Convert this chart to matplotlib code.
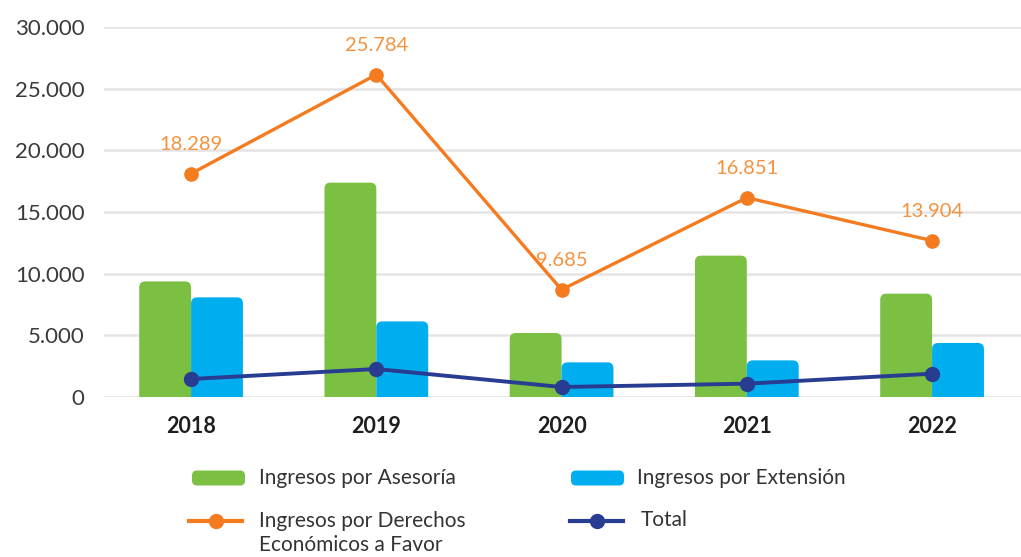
import matplotlib
matplotlib.use("Agg")
import matplotlib.pyplot as plt
from matplotlib.patches import FancyBboxPatch
from matplotlib.lines import Line2D
from matplotlib.ticker import FuncFormatter
import numpy as np

# ---- data ----
years = ["2018", "2019", "2020", "2021", "2022"]
asesoria = [9370, 17380, 5190, 11460, 8380]
extension = [8080, 6130, 2810, 2970, 4380]
derechos = [18110, 26140, 8700, 16160, 12680]
derechos_labels = ["18.289", "25.784", "9.685", "16.851", "13.904"]
total = [1460, 2270, 810, 1080, 1890]
yticks = [0, 5000, 10000, 15000, 20000, 25000, 30000]

legend_labels = ["Ingresos por Asesoría", "Ingresos por Extensión",
                 "Ingresos por Derechos", "Económicos a Favor", "Total"]

GREEN = "#7BC043"
BLUE = "#00AEEF"
ORANGE = "#F47B20"
ORANGE_TXT = "#F5923E"
NAVY = "#283C92"
GRID = "#E4E4E4"
TICK = "#3A3A3A"

plt.rcParams['font.family'] = ['Lato', 'DejaVu Sans']

W, H = 1021, 557
fig = plt.figure(figsize=(W / 100, H / 100), dpi=100)
ax = fig.add_axes([104 / W, 1 - 397 / H, (W - 104) / W, 370 / H])

x = np.arange(len(years))
bw = 0.28
ax.set_xlim(-0.47, 4.48)
ax.set_ylim(0, 30000)

# aspect for rounded bars (data y per data x in screen)
xu_per_px = (4.48 + 0.47) / (W - 104)
yu_per_px = 30000 / 370
aspect = yu_per_px / xu_per_px
r = 6 * xu_per_px

def rounded_bars(xpos, vals, color):
    bars = ax.bar(xpos, vals, width=bw, color=color, zorder=2)
    for b in bars:
        b.set_visible(False)
        bx, by = b.get_x(), b.get_y()
        bwid, bh = b.get_width(), b.get_height()
        ext = r * aspect
        p = FancyBboxPatch((bx, by - ext), bwid, bh + ext,
                           boxstyle=f"round,pad=0,rounding_size={r}",
                           mutation_aspect=aspect, facecolor=color,
                           edgecolor="none", zorder=2, clip_on=True)
        ax.add_patch(p)
    return bars

rounded_bars(x - bw / 2, asesoria, GREEN)
rounded_bars(x + bw / 2, extension, BLUE)

ax.plot(x, derechos, color=ORANGE, lw=2.4, marker="o", ms=9.5, zorder=4,
        clip_on=False)
ax.plot(x, total, color=NAVY, lw=2.8, marker="o", ms=10, zorder=4,
        clip_on=False)

for xi, yi, lab in zip(x, derechos, derechos_labels):
    ax.annotate(lab, (xi, yi), xytext=(0, 21), textcoords="offset points",
                ha="center", va="center", fontsize=14.5, color=ORANGE_TXT)

ax.set_yticks(yticks)
ax.yaxis.set_major_formatter(FuncFormatter(lambda v, p: f"{int(v):,}".replace(",", ".")))
ax.set_xticks(x)
ax.set_xticklabels(years, fontsize=15.5, fontweight="bold", color="#1E1E1E")
ax.tick_params(axis="y", length=0, pad=14, labelsize=16, labelcolor=TICK)
ax.tick_params(axis="x", length=0, pad=14)
ax.grid(axis="y", color=GRID, lw=1.8, zorder=0)
ax.set_axisbelow(True)
for s in ax.spines.values():
    s.set_visible(False)

# ---- legend (figure pixel coordinates) ----
lg = fig.add_axes([0, 0, 1, 1], zorder=-1)
lg.set_xlim(0, W)
lg.set_ylim(H, 0)
lg.axis("off")

def patch_handle(x0, yc, color):
    p = FancyBboxPatch((x0, yc - 7.5), 53, 15,
                       boxstyle="round,pad=0,rounding_size=5",
                       facecolor=color, edgecolor="none")
    lg.add_patch(p)

def line_handle(x0, yc, color):
    lg.add_line(Line2D([x0, x0 + 53], [yc, yc], color=color, lw=3))
    lg.plot([x0 + 26.5], [yc], marker="o", ms=10, color=color)

patch_handle(192, 478, GREEN)
patch_handle(571, 478, BLUE)
line_handle(189, 521, ORANGE)
line_handle(570, 521, NAVY)

lfs = 15
lc = "#333333"
lg.text(259, 478, legend_labels[0], fontsize=lfs, color=lc, va="center")
lg.text(637, 478, legend_labels[1], fontsize=lfs, color=lc, va="center")
lg.text(259, 521, legend_labels[2], fontsize=lfs, color=lc, va="center")
lg.text(259, 545, legend_labels[3], fontsize=lfs, color=lc, va="center")
lg.text(641, 520, legend_labels[4], fontsize=lfs, color=lc, va="center")

fig.savefig("out.png", dpi=100)
